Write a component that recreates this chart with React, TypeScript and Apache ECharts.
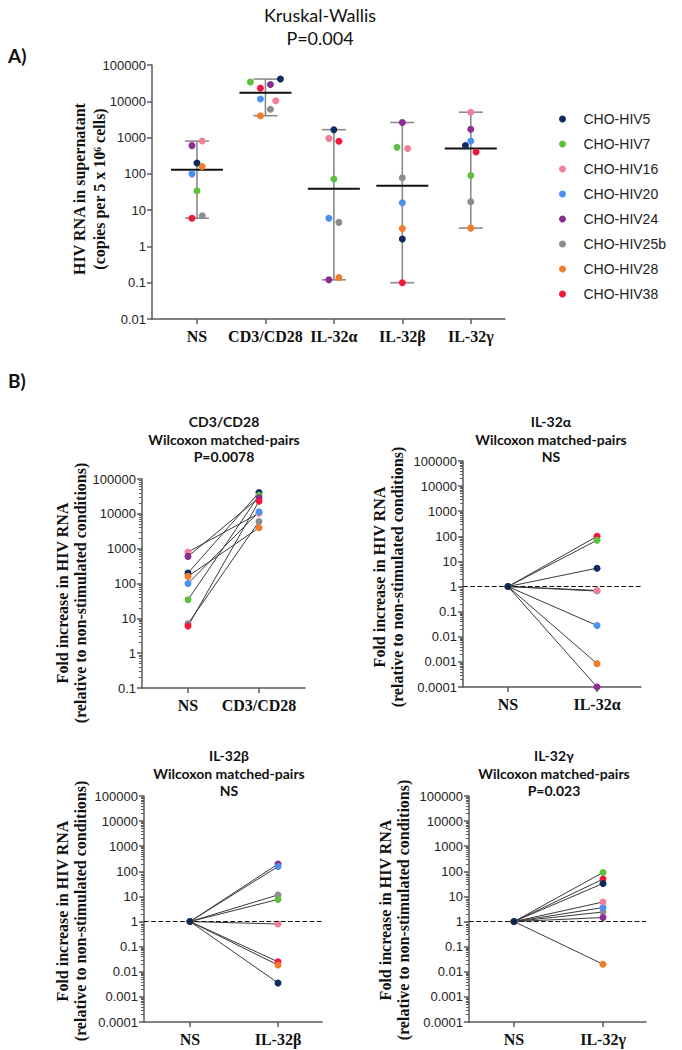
import React, { useEffect, useRef } from "react";
import * as echarts from "echarts";

// ---------- data ----------
const SUBJECTS = ["CHO-HIV5", "CHO-HIV7", "CHO-HIV16", "CHO-HIV20", "CHO-HIV24", "CHO-HIV25b", "CHO-HIV28", "CHO-HIV38"];
const COLORS = ["#0c2b5e", "#5fbf3e", "#f07f98", "#4b8ff0", "#8b2c93", "#8c8c8c", "#f27b2c", "#f0183c"];

const CONDITIONS = ["NS", "CD3/CD28", "IL-32α", "IL-32β", "IL-32γ"];

// Panel A: HIV RNA in supernatant (copies per 5 x 10^6 cells), order = SUBJECTS
const RNA_NS = [200, 34, 800, 100, 600, 7, 160, 6];
const RNA_CD3CD28 = [41000, 34000, 10400, 11500, 29000, 6000, 4000, 23000];
const RNA_IL32A = [1650, 72, 950, 6, 0.12, 4.6, 0.14, 790];
const RNA_IL32B = [1.6, 540, 500, 16, 2600, 78, 3.1, 0.1];
const RNA_IL32G = [600, 90, 5000, 800, 1700, 17, 3.2, 400];

// Panel B: fold increase relative to non-stimulated conditions
const FOLD_NS = [1, 1, 1, 1, 1, 1, 1, 1];
const FOLD_IL32A = [5.4, 70, 0.7, 0.028, 0.0001, 0.66, 0.00085, 100];
const FOLD_IL32B = [0.0036, 7.6, 0.8, 155, 195, 11.5, 0.0185, 0.025];
const FOLD_IL32G = [33, 90, 6, 3.6, 1.45, 2.4, 0.02, 49];

// ---------- layout (not data) ----------
const JITTER_A = [
  [0, 0, 0.077, -0.073, -0.073, 0.077, 0.077, -0.073],
  [0.219, -0.219, 0.151, -0.073, 0.073, 0.073, -0.073, -0.073],
  [0, 0, -0.073, -0.073, -0.073, 0.073, 0.073, 0.073],
  [0, -0.078, 0.078, 0, 0, 0, 0, 0],
  [-0.078, 0, 0, 0, 0, 0, 0, 0.078],
];

const A_VALUES = [RNA_NS, RNA_CD3CD28, RNA_IL32A, RNA_IL32B, RNA_IL32G];

const PANELS_B = [
  { title: "CD3/CD28\nWilcoxon matched-pairs\nP=0.0078", cats: ["NS", "CD3/CD28"], base: RNA_NS, stim: RNA_CD3CD28, yMin: 0.1, yMax: 100000, refLine: false,
    grid: { left: 142, top: 479, width: 163, height: 209 }, xMin: -0.648, xMax: 1.648, titleX: 224, titleY: 413, labelX: 71, labelY: 593, reverse: false },
  { title: "IL-32α\nWilcoxon matched-pairs\nNS", cats: ["NS", "IL-32α"], base: FOLD_NS, stim: FOLD_IL32A, yMin: 0.0001, yMax: 100000, refLine: true,
    grid: { left: 463, top: 461, width: 178, height: 226 }, xMin: -0.506, xMax: 1.494, titleX: 551, titleY: 413, labelX: 388, labelY: 577, reverse: true },
  { title: "IL-32β\nWilcoxon matched-pairs\nNS", cats: ["NS", "IL-32β"], base: FOLD_NS, stim: FOLD_IL32B, yMin: 0.0001, yMax: 100000, refLine: true,
    grid: { left: 144, top: 796, width: 178, height: 226 }, xMin: -0.523, xMax: 1.5, titleX: 229, titleY: 747, labelX: 71, labelY: 911, reverse: true },
  { title: "IL-32γ\nWilcoxon matched-pairs\nP=0.023", cats: ["NS", "IL-32γ"], base: FOLD_NS, stim: FOLD_IL32G, yMin: 0.0001, yMax: 100000, refLine: true,
    grid: { left: 469, top: 796, width: 177, height: 226 }, xMin: -0.506, xMax: 1.483, titleX: 554, titleY: 747, labelX: 394, labelY: 910, reverse: true },
];

const AXIS_COLOR = "#5a5a5a";
const SERIF = "'Liberation Serif', 'Times New Roman', serif";
const SANS = "'Liberation Sans', Arial, sans-serif";
const CAL = "Lato, 'Open Sans', sans-serif";

function median(arr: number[]) {
  const s = [...arr].sort((a, b) => a - b);
  const m = s.length / 2;
  return s.length % 2 ? s[Math.floor(m)] : (s[m - 1] + s[m]) / 2;
}

function logLabel(v: number) {
  return String(Number(v.toPrecision(4)));
}

function buildOption() {
  const grids: any[] = [{ left: 152, top: 65, width: 353, height: 254 }];
  const xAxes: any[] = [];
  const yAxes: any[] = [];
  const series: any[] = [];
  const titles: any[] = [];
  const graphics: any[] = [];

  const xAxisBase = (gridIndex: number, min: number, max: number, cats: string[]) => ({
    type: "value",
    gridIndex,
    min,
    max,
    splitLine: { show: false },
    axisLine: { show: true, onZero: false, lineStyle: { color: AXIS_COLOR, width: 1.5 } },
    axisTick: { show: true, customValues: cats.map((_, i) => i), length: 5, lineStyle: { color: AXIS_COLOR, width: 1.5 } },
    axisLabel: {
      customValues: cats.map((_, i) => i),
      formatter: (v: number) => cats[Math.round(v)] ?? "",
      fontFamily: SERIF, fontWeight: "bold", fontSize: 16, color: "#111", margin: 9,
    },
  });

  const yAxisBase = (gridIndex: number, min: number, max: number, minor: boolean) => ({
    type: "log",
    logBase: 10,
    gridIndex,
    min,
    max,
    splitNumber: Math.round(Math.log10(max / min)),
    splitLine: { show: false },
    axisLine: { show: true, onZero: false, lineStyle: { color: AXIS_COLOR, width: 1.5 } },
    axisTick: { show: true, length: 5, lineStyle: { color: AXIS_COLOR, width: 1.5 } },
    minorTick: { show: minor, splitNumber: 9, length: 3, lineStyle: { color: AXIS_COLOR, width: 1 } },
    axisLabel: { formatter: logLabel, fontFamily: SANS, fontSize: 13, color: "#222", margin: 6 },
  });

  // ----- Panel A -----
  xAxes.push(xAxisBase(0, -0.657, 4.5, CONDITIONS));
  yAxes.push(yAxisBase(0, 0.01, 100000, false));

  series.push({
    type: "custom",
    name: "median-range",
    xAxisIndex: 0,
    yAxisIndex: 0,
    z: 2,
    encode: { x: 0, y: [1, 2, 3] },
    data: A_VALUES.map((col, c) => [c, Math.min(...col), Math.max(...col), median(col)]),
    renderItem: (_p: any, api: any) => {
      const x = api.value(0);
      const lo = api.coord([x, api.value(1)]);
      const hi = api.coord([x, api.value(2)]);
      const md = api.coord([x, api.value(3)]);
      const gray = { stroke: "#8a8a8a", lineWidth: 1.6 };
      return {
        type: "group",
        children: [
          { type: "line", shape: { x1: hi[0], y1: hi[1], x2: lo[0], y2: lo[1] }, style: gray },
          { type: "line", shape: { x1: hi[0] - 12, y1: hi[1], x2: hi[0] + 12, y2: hi[1] }, style: gray },
          { type: "line", shape: { x1: lo[0] - 12, y1: lo[1], x2: lo[0] + 12, y2: lo[1] }, style: gray },
          { type: "line", shape: { x1: md[0] - 26, y1: md[1], x2: md[0] + 26, y2: md[1] }, style: { stroke: "#111", lineWidth: 2 } },
        ],
      };
    },
  });

  SUBJECTS.forEach((name, s) => {
    series.push({
      type: "scatter",
      name,
      xAxisIndex: 0,
      yAxisIndex: 0,
      z: 3,
      symbolSize: 7,
      itemStyle: { color: COLORS[s], opacity: 1 },
      data: A_VALUES.map((col, c) => [c + JITTER_A[c][s], col[s]]),
    });
  });

  // ----- Panel B -----
  PANELS_B.forEach((p, i) => {
    const gi = i + 1;
    grids.push(p.grid);
    xAxes.push(xAxisBase(gi, p.xMin, p.xMax, p.cats));
    yAxes.push(yAxisBase(gi, p.yMin, p.yMax, true));
    const order = SUBJECTS.map((_, s) => s);
    if (p.reverse) order.reverse();
    order.forEach((s, k) => {
      const ser: any = {
        type: "line",
        name: SUBJECTS[s],
        xAxisIndex: gi,
        yAxisIndex: gi,
        z: 3,
        symbol: "circle",
        symbolSize: 7,
        showSymbol: true,
        lineStyle: { color: "#3a3a3a", width: 1 },
        itemStyle: { color: COLORS[s] },
        data: [[0, p.base[s]], [1, p.stim[s]]],
      };
      if (p.refLine && k === 0) {
        ser.markLine = {
          silent: true,
          symbol: ["none", "none"],
          label: { show: false },
          lineStyle: { type: "dashed", color: "#111", width: 1.2 },
          data: [{ yAxis: 1 }],
        };
      }
      series.push(ser);
    });
    titles.push({
      text: p.title,
      left: p.titleX,
      top: p.titleY,
      textAlign: "center",
      padding: 0,
      textStyle: { fontFamily: CAL, fontWeight: "bold", fontSize: 14, lineHeight: 17.5, color: "#111" },
    });
    graphics.push({
      type: "text",
      x: p.labelX,
      y: p.labelY,
      rotation: Math.PI / 2,
      style: {
        text: "Fold increase in HIV RNA\n(relative to non-stimulated conditions)",
        fontFamily: SERIF, fontWeight: "bold", fontSize: 16, lineHeight: 18,
        fill: "#111", align: "center", verticalAlign: "middle",
      },
    });
  });

  titles.push({
    text: "Kruskal-Wallis\nP=0.004",
    left: 320,
    top: 3.5,
    textAlign: "center",
    padding: 0,
    textStyle: { fontFamily: CAL, fontWeight: "normal", fontSize: 18, lineHeight: 23, color: "#111" },
  });
  titles.push({ text: "A)", left: 8, top: 44, padding: 0, textStyle: { fontFamily: CAL, fontWeight: "bold", fontSize: 19, lineHeight: 22, color: "#111" } });
  titles.push({ text: "B)", left: 8, top: 369, padding: 0, textStyle: { fontFamily: CAL, fontWeight: "bold", fontSize: 19, lineHeight: 22, color: "#111" } });

  graphics.push({
    type: "text",
    x: 89,
    y: 189,
    rotation: Math.PI / 2,
    style: {
      text: "HIV RNA in supernatant\n(copies per 5 x 10⁶ cells)",
      fontFamily: SERIF, fontWeight: "bold", fontSize: 16, lineHeight: 20,
      fill: "#111", align: "center", verticalAlign: "middle",
    },
  });

  return {
    animation: false,
    backgroundColor: "#ffffff",
    title: titles,
    legend: {
      data: SUBJECTS,
      orient: "vertical",
      left: 554,
      top: 106,
      icon: "circle",
      itemWidth: 32,
      itemHeight: 7,
      itemGap: 9,
      selectedMode: false,
      textStyle: { fontFamily: SANS, fontSize: 14, color: "#222", lineHeight: 16 },
    },
    grid: grids,
    xAxis: xAxes,
    yAxis: yAxes,
    series,
    graphic: graphics,
  };
}

export default function App() {
  const ref = useRef<HTMLDivElement>(null);
  useEffect(() => {
    document.body.style.margin = "0";
    if (!ref.current) return;
    const chart = echarts.init(ref.current, undefined, { renderer: "svg" });
    chart.setOption(buildOption() as any);
    return () => chart.dispose();
  }, []);
  return <div ref={ref} style={{ width: 682, height: 1050 }} />;
}
